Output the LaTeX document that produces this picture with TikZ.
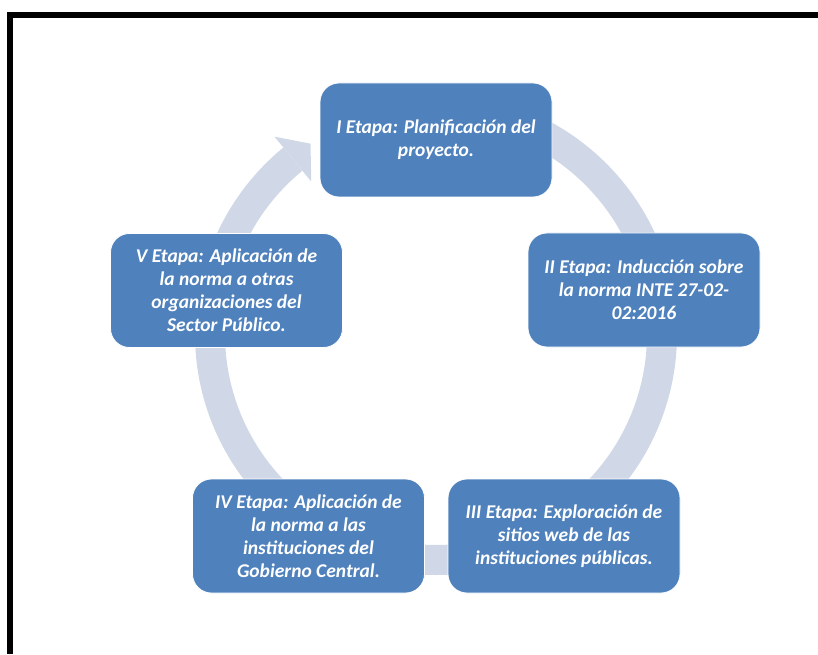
\documentclass[tikz,border=0pt]{standalone}
\usepackage{fontspec}
\setmainfont{Carlito}
\usetikzlibrary{calc}
\definecolor{boxblue}{HTML}{4F81BD}
\definecolor{ringc}{HTML}{D0D8E8}
\tikzset{
  stagebox/.style={rectangle, rounded corners=19pt, fill=boxblue, draw=white, line width=0.8pt,
    minimum width=232pt, minimum height=114pt, inner sep=0pt, align=center, text=white,
    font=\fontsize{19.5}{23}\selectfont\bfseries\itshape},
  ringfill/.style={fill=ringc}
}
\begin{document}
\begin{tikzpicture}[x=1pt,y=1pt]
\useasboundingbox (0,0) rectangle (818,654);
% frame
\fill[black] (7,0) rectangle (13,642);
\fill[black] (7,636) rectangle (818,642);
% ring
\coordinate (C) at (436,320);
\fill[ringfill] ($(C)+(90:241)$) arc[start angle=90, end angle=-230.7, radius=241]
  -- ($(C)+(-230.7:211)$) arc[start angle=-230.7, end angle=90, radius=211] -- cycle;
\fill[ringfill] ($(C)+(129.3:255)$) -- ($(C)+(123.4:228)$) -- ($(C)+(129.3:197)$) -- cycle;
% boxes
\node[stagebox] (e1) at (436,514) {I Etapa: Planificación del\\proyecto.};
\node[stagebox] (e2) at (644,364) {II Etapa: Inducción sobre\\la norma INTE 27-02-\\02:2016};
\node[stagebox] (e3) at (564,118) {III Etapa: Exploración de\\sitios web de las\\instituciones públicas.};
\node[stagebox] (e4) at (308.5,118) {IV Etapa: Aplicación de\\la norma a las\\instituciones del\\Gobierno Central.};
\node[stagebox] (e5) at (226.5,363.5) {V Etapa: Aplicación de\\la norma a otras\\organizaciones del\\Sector Público.};
\end{tikzpicture}
\end{document}
